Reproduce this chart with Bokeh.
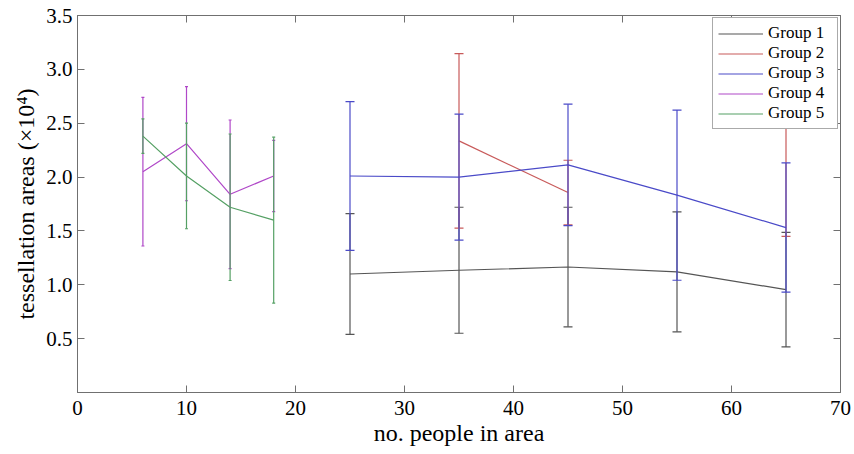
import math
from bokeh.plotting import figure
from bokeh.models import LinearAxis, FixedTicker, Range1d
from bokeh.embed import file_html
from bokeh.resources import INLINE

# ---- data ----
x_left = [6, 10, 14, 18]
x_right = [25, 35, 45, 55, 65]

g1_mean = [1.10, 1.135, 1.165, 1.12, 0.955]
g1_err = [0.56, 0.585, 0.555, 0.557, 0.532]

g2_mean = [float("nan"), 2.336, 1.856, float("nan"), 1.98]
g2_err = [float("nan"), 0.81, 0.30, float("nan"), 0.53]

g3_mean = [2.01, 2.00, 2.113, 1.832, 1.531]
g3_err = [0.69, 0.585, 0.564, 0.79, 0.60]

g4_mean = [2.05, 2.31, 1.84, 2.01]
g4_err = [0.69, 0.53, 0.69, 0.33]

g5_mean = [2.38, 2.01, 1.72, 1.60]
g5_err = [0.16, 0.49, 0.68, 0.77]

x_ticks = [0, 10, 20, 30, 40, 50, 60, 70]
y_ticks = [0.5, 1.0, 1.5, 2.0, 2.5, 3.0, 3.5]

series = [
    ("Group 1", x_right, g1_mean, g1_err, "#555555", 9),
    ("Group 2", x_right, g2_mean, g2_err, "#c85a5a", 9),
    ("Group 3", x_right, g3_mean, g3_err, "#4a4ac8", 9),
    ("Group 4", x_left, g4_mean, g4_err, "#b048c8", 3),
    ("Group 5", x_left, g5_mean, g5_err, "#55a064", 3),
]

FONT = "Liberation Serif"
AX = "#707070"

p = figure(width=854, height=454, output_backend="svg", toolbar_location=None,
           x_range=Range1d(0, 70), y_range=Range1d(0, 3.5),
           min_border_left=77, min_border_right=14, min_border_top=15, min_border_bottom=62,
           background_fill_color="white", border_fill_color="white")
p.grid.visible = False
p.outline_line_color = AX
p.outline_line_width = 1

# axes
for ax in (p.xaxis[0], p.yaxis[0]):
    ax.axis_line_color = AX
    ax.major_tick_line_color = AX
    ax.major_tick_in = 7
    ax.major_tick_out = 0
    ax.minor_tick_line_color = None
    ax.major_label_text_font = FONT
    ax.major_label_text_font_size = "21px"
    ax.major_label_text_color = "black"
    ax.axis_label_text_font = FONT
    ax.axis_label_text_font_size = "24px"
    ax.axis_label_text_font_style = "normal"
    ax.axis_label_text_color = "black"

p.xaxis.ticker = FixedTicker(ticks=x_ticks)
p.xaxis.major_label_standoff = 8
p.xaxis.axis_label = "no. people in area"
p.xaxis.axis_label_standoff = 2

p.yaxis.ticker = FixedTicker(ticks=y_ticks)
p.yaxis.major_label_overrides = {v: f"{v:.1f}" for v in y_ticks}
p.yaxis.major_label_standoff = 5
p.yaxis.axis_label = "tessellation areas (×10⁴)"
p.yaxis.axis_label_standoff = 4

# top / right inward ticks, no labels
top = LinearAxis(ticker=FixedTicker(ticks=x_ticks), major_label_text_color=None,
                 axis_line_color=AX, major_tick_line_color=AX, major_tick_in=7, major_tick_out=0,
                 minor_tick_line_color=None)
right = LinearAxis(ticker=FixedTicker(ticks=y_ticks), major_label_text_color=None,
                   axis_line_color=AX, major_tick_line_color=AX, major_tick_in=7, major_tick_out=0,
                   minor_tick_line_color=None)
p.add_layout(top, "above")
p.add_layout(right, "right")

# series: error bars + line, drawn in order
for name, xs, ms, es, col, cap in series:
    bx = [x for x, m in zip(xs, ms) if not math.isnan(m)]
    bm = [m for m in ms if not math.isnan(m)]
    be = [e for e in es if not math.isnan(e)]
    lo = [m - e for m, e in zip(bm, be)]
    hi = [m + e for m, e in zip(bm, be)]
    p.segment(x0=bx, y0=lo, x1=bx, y1=hi, line_color=col, line_width=1.2)
    p.dash(x=bx + bx, y=lo + hi, size=cap, line_color=col, line_width=1.2)
    p.line(x=xs, y=ms, line_color=col, line_width=1.2, legend_label=name)

lg = p.legend[0]
lg.location = "top_right"
lg.margin = 2
lg.padding = 5
lg.spacing = 0
lg.label_height = 19
lg.glyph_height = 19
lg.glyph_width = 45
lg.label_width = 64
lg.label_standoff = 5
lg.label_text_font = FONT
lg.label_text_font_size = "17px"
lg.label_text_color = "black"
lg.border_line_color = "#555555"
lg.border_line_width = 1
lg.background_fill_color = "white"
lg.background_fill_alpha = 1

open("out.html", "w").write(file_html(p, INLINE))
